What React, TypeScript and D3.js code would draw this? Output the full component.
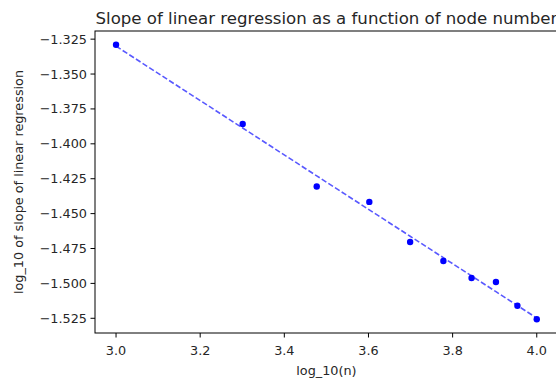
import React from "react";
import * as d3 from "d3";

const logN: number[] = [3.0, 3.301, 3.477, 3.602, 3.699, 3.778, 3.845, 3.903, 3.954, 4.0];
const logSlope: number[] = [-1.329, -1.3858, -1.4306, -1.4416, -1.4703, -1.4839, -1.4961, -1.499, -1.516, -1.5257];
const xTicks: number[] = [3.0, 3.2, 3.4, 3.6, 3.8, 4.0];
const yTicks: number[] = [-1.325, -1.35, -1.375, -1.4, -1.425, -1.45, -1.475, -1.5, -1.525];
const title = "Slope of linear regression as a function of node number";
const xLabel = "log_10(n)";
const yLabel = "log_10 of slope of linear regression";

const W = 556;
const H = 381;
const left = 95;
const right = 557.8;
const top = 31;
const bottom = 333;
const FONT = "DejaVu Sans, sans-serif";

export default function App() {
  const xMin = d3.min(logN)!, xMax = d3.max(logN)!;
  const yMin = d3.min(logSlope)!, yMax = d3.max(logSlope)!;
  const xPad = (xMax - xMin) * 0.05;
  const yPad = (yMax - yMin) * 0.05;
  const x = d3.scaleLinear().domain([xMin - xPad, xMax + xPad]).range([left, right]);
  const y = d3.scaleLinear().domain([yMin - yPad, yMax + yPad]).range([bottom, top]);

  // least squares fit
  const mx = d3.mean(logN)!;
  const my = d3.mean(logSlope)!;
  let sxy = 0, sxx = 0;
  logN.forEach((v, i) => {
    sxy += (v - mx) * (logSlope[i] - my);
    sxx += (v - mx) * (v - mx);
  });
  const slope = sxy / sxx;
  const intercept = my - slope * mx;
  const fit = logN.map((v) => [v, intercept + slope * v] as [number, number]);
  const line = d3.line<[number, number]>().x((d) => x(d[0])).y((d) => y(d[1]));

  const fmtY = (v: number) => v.toFixed(3).replace("-", "\u2212");
  const fmtX = (v: number) => v.toFixed(1);

  return (
    <svg width={W} height={H} style={{ position: "absolute", left: 0, top: 0, overflow: "hidden" }} fontFamily={FONT}>
      <rect x={0} y={0} width={W} height={H} fill="#fff" />
      <path d={line(fit)!} fill="none" stroke="#0000ff" strokeOpacity={0.65} strokeWidth={1.6} strokeDasharray="5.5,2.4" />
      {logN.map((v, i) => (
        <circle key={i} cx={x(v)} cy={y(logSlope[i])} r={3.2} fill="#0000ff" />
      ))}
      {/* spines */}
      <rect x={left} y={top} width={right - left} height={bottom - top} fill="none" stroke="#000" strokeWidth={1} />
      {xTicks.map((t) => (
        <g key={t}>
          <line x1={x(t)} x2={x(t)} y1={bottom} y2={bottom + 4.5} stroke="#000" strokeWidth={1} />
          <text x={x(t)} y={355} textAnchor="middle" fontSize={12.8} fill="#262626">{fmtX(t)}</text>
        </g>
      ))}
      {yTicks.map((t) => (
        <g key={t}>
          <line x1={left - 4.5} x2={left} y1={y(t)} y2={y(t)} stroke="#000" strokeWidth={1} />
          <text x={left - 8} y={y(t)} dy="0.35em" textAnchor="end" fontSize={12.8} fill="#262626">{fmtY(t)}</text>
        </g>
      ))}
      <text x={(left + right) / 2} y={375} textAnchor="middle" fontSize={12.8} fill="#262626">{xLabel}</text>
      <text transform={`translate(23,${(top + bottom) / 2}) rotate(-90)`} textAnchor="middle" fontSize={12.8} fill="#262626">{yLabel}</text>
      <text x={(left + right) / 2} y={24} textAnchor="middle" fontSize={16.6} fill="#262626">{title}</text>
    </svg>
  );
}
